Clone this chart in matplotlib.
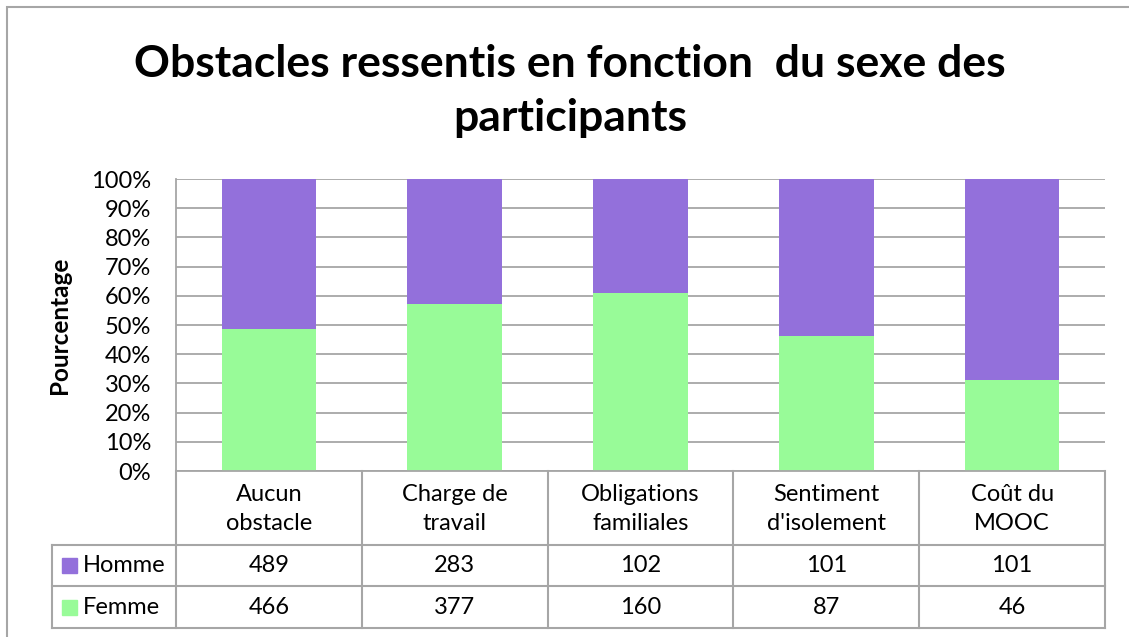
import matplotlib.pyplot as plt
from matplotlib.lines import Line2D
from matplotlib.patches import Rectangle
from matplotlib.ticker import PercentFormatter

plt.rcParams['font.family'] = ['Lato', 'DejaVu Sans']

# Données : nombre de participants par obstacle et par sexe
categories = ["Aucun\nobstacle", "Charge de\ntravail", "Obligations\nfamiliales",
              "Sentiment\nd'isolement", "Coût du\nMOOC"]
homme = [489, 283, 102, 101, 101]
femme = [466, 377, 160, 87, 46]

col_homme = '#9370DB'
col_femme = '#98FB98'
col_grid = '#A6A6A6'

W, H = 1129, 637
fig = plt.figure(figsize=(W / 100, H / 100), dpi=100)

# cadre du graphique
fig.add_artist(Rectangle((7 / W, -0.01), 1.2, 1 - 7 / H + 0.01, transform=fig.transFigure,
                         fill=False, edgecolor=col_grid, linewidth=1.5))

fig.text(570 / W, 1 - 91 / H, "Obstacles ressentis en fonction  du sexe des\nparticipants",
         ha='center', va='center', fontsize=32, fontweight='bold', linespacing=1.45)

# zone du graphique
x0, x1 = 176, 1105
y_top, y_zero = 179, 471
ax = fig.add_axes([x0 / W, 1 - y_zero / H, (x1 - x0) / W, (y_zero - y_top) / H])

totals = [h + f for h, f in zip(homme, femme)]
p_femme = [f / t * 100 for f, t in zip(femme, totals)]
p_homme = [h / t * 100 for h, t in zip(homme, totals)]
xs = range(len(categories))
ax.bar(xs, p_femme, width=0.51, color=col_femme, zorder=2)
ax.bar(xs, p_homme, width=0.51, bottom=p_femme, color=col_homme, zorder=2)

ax.set_xlim(-0.5, len(categories) - 0.5)
ax.set_ylim(0, 100)
ax.set_yticks(range(0, 101, 10))
ax.yaxis.set_major_formatter(PercentFormatter(decimals=0))
ax.tick_params(axis='y', length=0, labelsize=17, pad=18)
ax.set_xticks([])
ax.grid(axis='y', color=col_grid, linewidth=1.3, zorder=0)
for s in ['top', 'right']:
    ax.spines[s].set_visible(False)
ax.spines['left'].set_color(col_grid)
ax.spines['bottom'].set_color(col_grid)
ax.spines['left'].set_linewidth(1.3)
ax.spines['bottom'].set_linewidth(1.3)
ax.set_ylabel("Pourcentage", fontsize=17.5, fontweight='bold')
ax.yaxis.set_label_coords((71 - x0) / (x1 - x0), 0.5)

# tableau de données sous le graphique
lx = 52
unit = (x1 - x0) / len(categories)
tb_bottom = 628
tax = fig.add_axes([lx / W, 1 - tb_bottom / H, (x1 - lx) / W, (tb_bottom - y_zero) / H])
tax.set_xlim(-0.5 - (x0 - lx) / unit, len(categories) - 0.5)
tax.set_ylim(tb_bottom - y_zero, 0)
tax.axis('off')

rows = [74, 115, 157]
left = -0.5 - (x0 - lx) / unit
right = len(categories) - 0.5
kw = dict(color=col_grid, linewidth=1.5, clip_on=False)
for r in rows:
    tax.add_line(Line2D([left, right], [r, r], **kw))
tax.add_line(Line2D([left, left], [rows[0], rows[2]], **kw))
for i in range(len(categories) + 1):
    tax.add_line(Line2D([i - 0.5, i - 0.5], [0, rows[2]], **kw))

for i, cat in enumerate(categories):
    tax.text(i, rows[0] / 2 + 1, cat, ha='center', va='center', fontsize=17, linespacing=1.45)
    tax.text(i, (rows[0] + rows[1]) / 2, str(homme[i]), ha='center', va='center', fontsize=17)
    tax.text(i, (rows[1] + rows[2]) / 2, str(femme[i]), ha='center', va='center', fontsize=17)

for (r0, r1), name, col in [((rows[0], rows[1]), "Homme", col_homme),
                            ((rows[1], rows[2]), "Femme", col_femme)]:
    ym = (r0 + r1) / 2
    sq = 15 / unit
    tax.add_patch(Rectangle((left + 10 / unit, ym - 7.5), sq, 15, color=col, clip_on=False))
    tax.text(left + 31 / unit, ym, name, ha='left', va='center', fontsize=17)

fig.savefig('out.png', dpi=100)
